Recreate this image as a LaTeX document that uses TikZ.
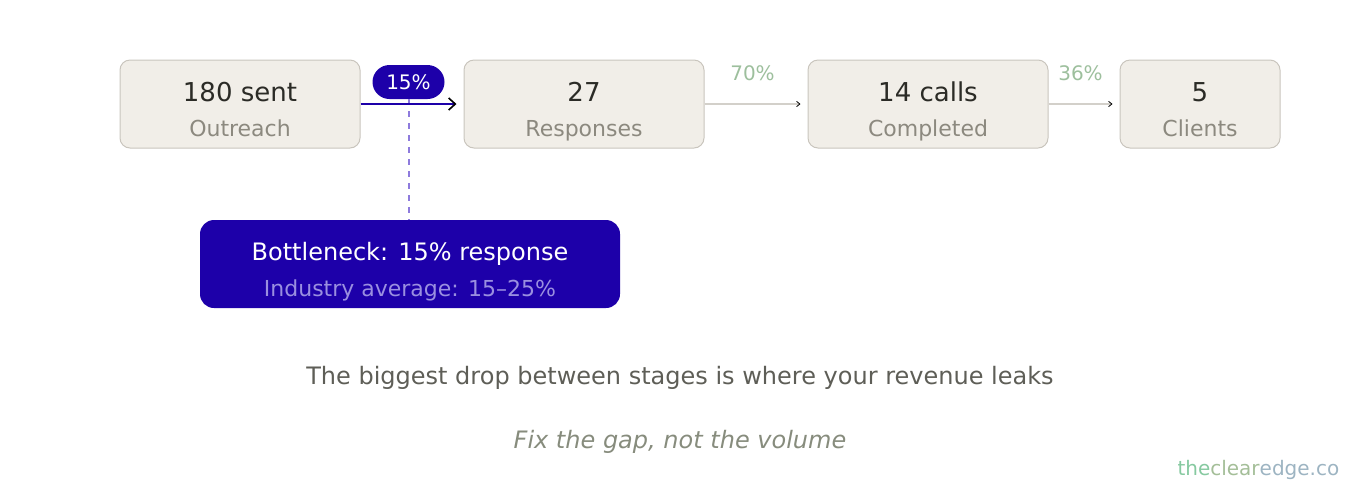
\documentclass[tikz,border=0pt]{standalone}
\usepackage{fontspec}
\setmainfont{DejaVu Sans}
\usepackage{xcolor}
\usepackage{tikz}
\usetikzlibrary{arrows.meta, positioning, calc}
\definecolor{funnelfill}{HTML}{F1EEE8}
\definecolor{funnelline}{HTML}{C9C5BD}
\definecolor{valuetext}{HTML}{2B2B26}
\definecolor{labeltext}{HTML}{8C897F}
\definecolor{rategreen}{HTML}{9DBF9D}
\definecolor{deepblue}{HTML}{1D00A9}
\definecolor{softlilac}{HTML}{9A8FE0}
\definecolor{dashlilac}{HTML}{8E7BDD}
\definecolor{flowgray}{HTML}{D3D0CA}
\definecolor{captiontext}{HTML}{5E5E57}
\definecolor{taglinetext}{HTML}{878C7D}
\definecolor{brandgreen}{HTML}{86C9A0}
\definecolor{brandmid}{HTML}{A4BE98}
\definecolor{brandblue}{HTML}{9DB4C2}
\tikzset{
  stage_box/.style={draw=funnelline, fill=funnelfill, line width=0.75pt, rounded corners=7.5pt, minimum height=66pt, inner sep=0pt},
  stage_value/.style={anchor=base, font=\fontsize{19.5}{23}\selectfont, text=valuetext},
  stage_label/.style={anchor=base, font=\fontsize{16.5}{20}\selectfont, text=labeltext},
  rate_label/.style={anchor=base, font=\fontsize{15}{18}\selectfont, text=rategreen},
  rate_pill/.style={fill=deepblue, text=white, rounded corners=12.75pt, minimum width=54pt, minimum height=25.5pt, inner sep=0pt, font=\fontsize{15}{18}\selectfont},
  edge_main/.style={draw=deepblue, line width=1.5pt, -{Straight Barb[length=5pt, width=9pt, color=black, line width=1.2pt]}, shorten >=5.25pt},
  edge_minor/.style={draw=flowgray, line width=1pt, -{Straight Barb[length=2.5pt, width=4pt, color=black, line width=0.6pt]}, shorten >=5.25pt},
  dep_dashed/.style={draw=dashlilac, line width=1.5pt, dash pattern=on 4.5pt off 4.5pt},
  alert_box/.style={fill=deepblue, rounded corners=10.5pt, minimum width=315pt, minimum height=66pt, inner sep=0pt},
  alert_title/.style={anchor=base, font=\fontsize{18}{22}\selectfont, text=white},
  alert_note/.style={anchor=base, font=\fontsize{16.5}{20}\selectfont, text=softlilac},
  caption_line/.style={anchor=base, font=\fontsize{18}{22}\selectfont, text=captiontext},
  tagline/.style={anchor=base, font=\fontsize{18}{22}\selectfont\itshape, text=taglinetext},
  brand_mark/.style={anchor=base, font=\fontsize{15}{18}\selectfont}
}
\begin{document}
\begin{tikzpicture}[x=0.75pt, y=-0.75pt]
\useasboundingbox (0,0) rectangle (1360,480);
% stages
\node[stage_box, minimum width=180pt] (outreach_box) at (240,104) {};
\node[stage_box, minimum width=180pt] (responses_box) at (584,104) {};
\node[stage_box, minimum width=180pt] (completed_box) at (928,104) {};
\node[stage_box, minimum width=120pt] (clients_box) at (1200,104) {};
\node[stage_value] (outreach_value) at (240,101) {180 sent};
\node[stage_label] (outreach_label) at (240,136) {Outreach};
\node[stage_value] (responses_value) at (584,101) {27};
\node[stage_label] (responses_label) at (584,136) {Responses};
\node[stage_value] (completed_value) at (928,101) {14 calls};
\node[stage_label] (completed_label) at (928,136) {Completed};
\node[stage_value] (clients_value) at (1200,101) {5};
\node[stage_label] (clients_label) at (1200,136) {Clients};
% bottleneck callout
\node[alert_box] (bottleneck_box) at (410,264) {};
\node[alert_title] (bottleneck_title) at (410,260.5) {Bottleneck: 15\% response};
\node[alert_note] (bottleneck_note) at (410,296) {Industry average: 15–25\%};
\node[rate_pill] (rate_pill_0) at (408.5,82) {15\%};
\draw[dep_dashed] (rate_pill_0.south) -- (rate_pill_0.south |- bottleneck_box.north);
% connectors
\draw[edge_main] (outreach_box.east) -- (responses_box.west);
\draw[edge_minor] (responses_box.east) -- (completed_box.west);
\draw[edge_minor] (completed_box.east) -- (clients_box.west);
\node[rate_label] (rate_label_1) at (752.5,80) {70\%};
\node[rate_label] (rate_label_2) at (1080.5,80) {36\%};
% captions
\node[caption_line] (caption_node) at (680,384.5) {The biggest drop between stages is where your revenue leaks};
\node[tagline] (tagline_node) at (680,448.5) {Fix the gap, not the volume};
\node[brand_mark, anchor=base east] (brand_node) at (1344,475) {\textcolor{brandgreen}{the}\textcolor{brandmid}{clear}\textcolor{brandblue}{edge.co}};
\end{tikzpicture}
\end{document}
